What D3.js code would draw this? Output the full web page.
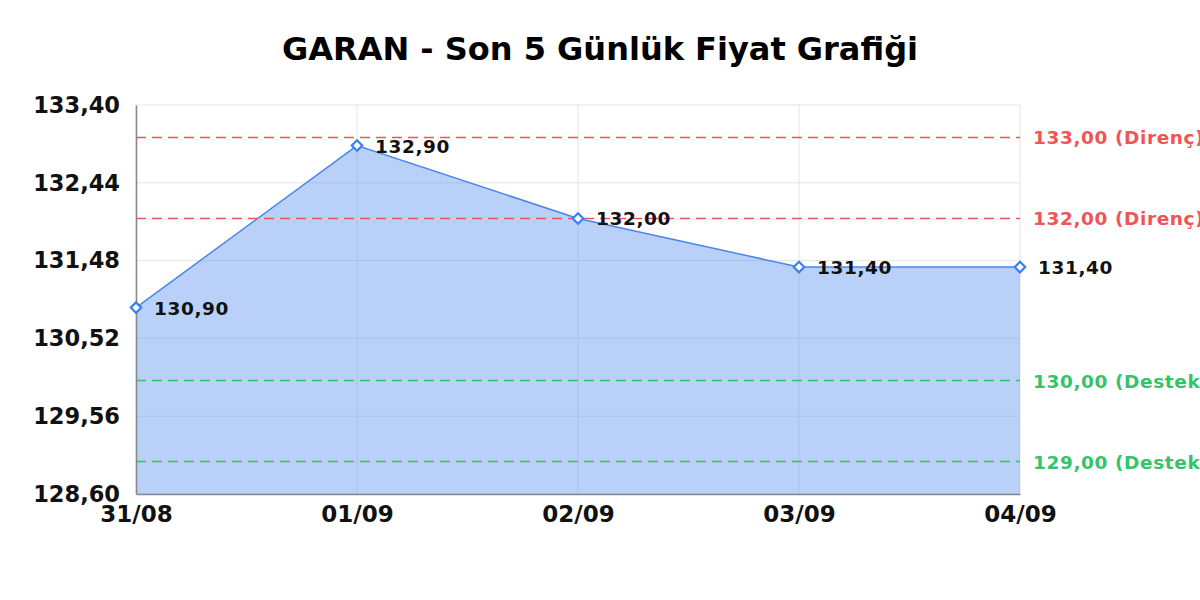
<!DOCTYPE html>
<html>
<head>
<meta charset="utf-8">
<script src="https://cdn.jsdelivr.net/npm/d3@7"></script>
<style>
  html, body { margin: 0; padding: 0; background: #fff; }
  svg { display: block; font-family: "DejaVu Sans", sans-serif; }
</style>
</head>
<body>
<svg id="chart" width="1200" height="600"></svg>
<script>
// chart data
const dates = ['31/08', '01/09', '02/09', '03/09', '04/09'];
const prices = [130.90, 132.90, 132.00, 131.40, 131.40];
const yTicks = [128.60, 129.56, 130.52, 131.48, 132.44, 133.40];
const resistance = [133.00, 132.00];
const support = [130.00, 129.00];

const W = 1200, H = 600;
const margin = { top: 105, right: 180, bottom: 106, left: 136 };
const fmt = (v) => v.toFixed(2).replace('.', ',');

const svg = d3.select('#chart');

const x = d3.scalePoint().domain(dates).range([margin.left, W - margin.right]);
const y = d3.scaleLinear().domain([128.60, 133.40]).range([H - margin.bottom, margin.top]);

// title
svg.append('text')
    .attr('x', W / 2).attr('y', 60)
    .attr('text-anchor', 'middle')
    .attr('font-size', 32).attr('font-weight', 'bold')
    .text('GARAN - Son 5 Günlük Fiyat Grafiği');

// grid
const grid = svg.append('g').attr('stroke', '#e4e4e4').attr('stroke-width', 1);
grid.selectAll('.hg').data(yTicks).join('line')
    .attr('x1', margin.left).attr('x2', W - margin.right)
    .attr('y1', (d) => y(d)).attr('y2', (d) => y(d));
grid.selectAll('.vg').data(dates).join('line')
    .attr('x1', (d) => x(d)).attr('x2', (d) => x(d))
    .attr('y1', margin.top).attr('y2', H - margin.bottom);

// area + line
const pts = dates.map((d, i) => ({ d, v: prices[i] }));
svg.append('path')
    .datum(pts)
    .attr('fill', 'rgba(100,150,240,0.45)')
    .attr('d', d3.area().x((p) => x(p.d)).y0(y(128.60)).y1((p) => y(p.v)));
svg.append('path')
    .datum(pts)
    .attr('fill', 'none')
    .attr('stroke', '#4a86ee')
    .attr('stroke-width', 1.5)
    .attr('d', d3.line().x((p) => x(p.d)).y((p) => y(p.v)));

// reference lines
const refs = resistance.map((v) => ({ v, c: '#f05454', tag: 'Direnç' }))
    .concat(support.map((v) => ({ v, c: '#33c46a', tag: 'Destek' })));
svg.append('g').selectAll('line').data(refs).join('line')
    .attr('x1', margin.left).attr('x2', W - margin.right)
    .attr('y1', (d) => y(d.v)).attr('y2', (d) => y(d.v))
    .attr('stroke', (d) => d.c)
    .attr('stroke-width', 1.5)
    .attr('stroke-dasharray', '10 6');
svg.append('g').selectAll('text').data(refs).join('text')
    .attr('x', W - margin.right + 13)
    .attr('y', (d) => y(d.v) + 7)
    .attr('fill', (d) => d.c)
    .attr('font-size', 18.5).attr('font-weight', 'bold')
    .attr('letter-spacing', 0.6)
    .text((d) => `${fmt(d.v)} (${d.tag})`);

// axes
const yAxis = svg.append('g')
    .attr('transform', `translate(${margin.left},0)`)
    .call(d3.axisLeft(y).tickValues(yTicks).tickFormat(fmt).tickSize(0).tickPadding(16));
yAxis.select('.domain').attr('stroke', '#888').attr('stroke-width', 1.5);
yAxis.selectAll('text').attr('font-size', 22.5).attr('font-weight', 'bold').attr('fill', '#111')
    .attr('font-family', '"DejaVu Sans", sans-serif');

const xAxis = svg.append('g')
    .attr('transform', `translate(0,${H - margin.bottom})`)
    .call(d3.axisBottom(x).tickSize(0).tickPadding(12));
xAxis.select('.domain').attr('stroke', '#888').attr('stroke-width', 1.5);
xAxis.selectAll('text').attr('font-size', 23).attr('font-weight', 'bold').attr('fill', '#111')
    .attr('font-family', '"DejaVu Sans", sans-serif');

// markers
svg.append('g').selectAll('path').data(pts).join('path')
    .attr('transform', (p) => `translate(${x(p.d)},${y(p.v)})`)
    .attr('d', d3.symbol(d3.symbolDiamond2, 70))
    .attr('fill', '#fff')
    .attr('stroke', '#3b7ff0')
    .attr('stroke-width', 2.2);

// data labels
svg.append('g').selectAll('text').data(pts).join('text')
    .attr('x', (p) => x(p.d) + 18)
    .attr('y', (p) => y(p.v) + 7)
    .attr('font-size', 18.5).attr('font-weight', 'bold')
    .attr('letter-spacing', 0.6)
    .attr('fill', '#111')
    .text((p) => fmt(p.v));
</script>
</body>
</html>
